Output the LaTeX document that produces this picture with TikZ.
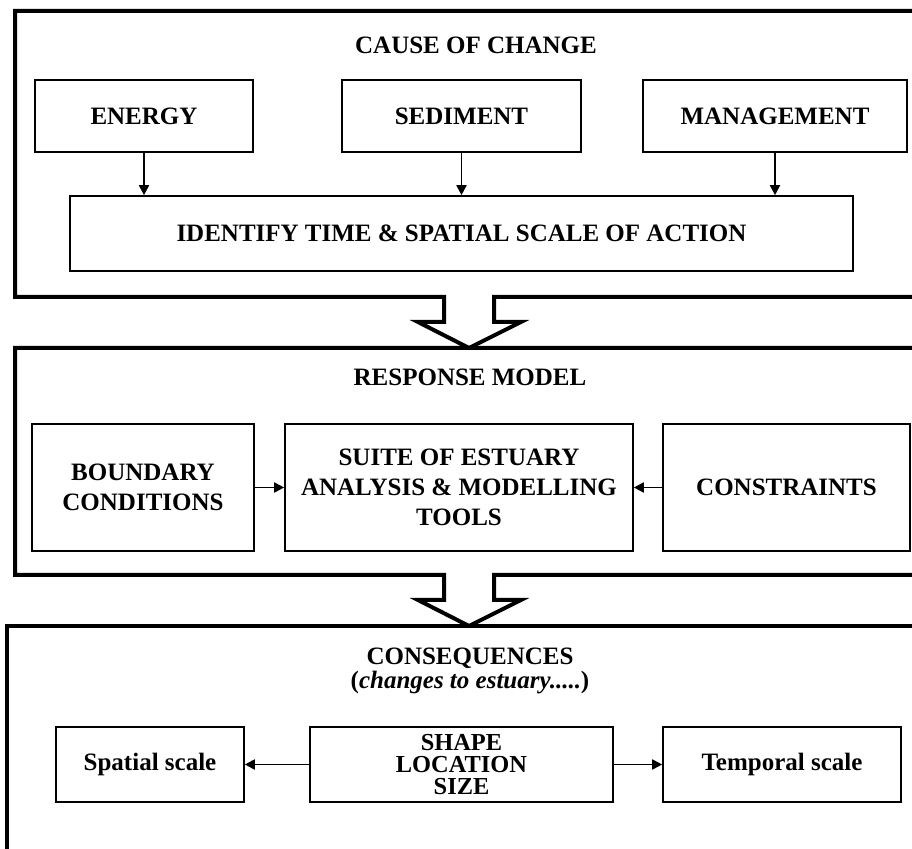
\documentclass[tikz,border=0pt]{standalone}
\usepackage{fontspec}
\setmainfont{Liberation Serif}
\usepackage{tikz}
\usetikzlibrary{arrows}
\usetikzlibrary{arrows.meta}

\begin{document}
\begin{tikzpicture}[x=0.5pt,y=-0.5pt,
    box/.style={draw,line width=0.8pt,align=center,inner sep=0pt,
      font=\bfseries\fontsize{12.5}{15}\selectfont},
    tightbox/.style={box,font=\bfseries\fontsize{12.2}{11}\selectfont},
    title/.style={font=\bfseries\fontsize{12.5}{15}\selectfont},
    frame/.style={line width=2pt,miter limit=10},
    link/.style={line width=0.9pt,-{Triangle[length=5pt,width=5pt]}}]
    \clip (0,0) rectangle (912,849);
    \draw[frame] (930,297) -- (494,297) -- (494,322) -- (521,322) -- (469,348) -- (418,322) -- (444,322) -- (444,297) -- (15,297) -- (15,11) -- (930,11);
    \draw[frame] (930,348) -- (15,348) -- (15,575) -- (444,575) -- (444,600) -- (418,600) -- (469,626) -- (521,600) -- (494,600) -- (494,575) -- (930,575);
    \draw[frame] (930,626) -- (7,626) -- (7,880);
    \node[title] (cause) at (476,45) {CAUSE OF CHANGE};
    \node[box,minimum width=109pt,minimum height=36pt] (energy) at (144,116) {ENERGY};
    \node[box,minimum width=119.5pt,minimum height=36pt] (sediment) at (461.5,116) {SEDIMENT};
    \node[box,minimum width=132pt,minimum height=36pt] (management) at (775,116) {MANAGEMENT};
    \node[box,minimum width=391.5pt,minimum height=37.5pt] (identify) at (461.5,233.5) {IDENTIFY TIME \& SPATIAL SCALE OF ACTION};
    \draw[link] (energy) -- (energy |- identify.north);
    \draw[link] (sediment) -- (sediment |- identify.north);
    \draw[link] (management) -- (management |- identify.north);
    \node[title] (response) at (470,377) {RESPONSE MODEL};
    \node[box,minimum width=111pt,minimum height=63.5pt] (boundary) at (143,487.5) {BOUNDARY\\CONDITIONS};
    \node[box,minimum width=174pt,minimum height=63.5pt] (suite) at (459,487.5) {SUITE OF ESTUARY\\ANALYSIS \& MODELLING\\TOOLS};
    \node[box,minimum width=123.5pt,minimum height=63.5pt] (constraints) at (786.5,487.5) {CONSTRAINTS};
    \draw[link] (boundary) -- (suite);
    \draw[link] (constraints) -- (suite);
    \node[title] (consequences) at (470,658) {CONSEQUENCES};
    \node[title] (changes) at (470,683) {(\textit{changes to estuary.....})};
    \node[box,minimum width=94pt,minimum height=37.5pt] (spatial) at (150,764.5) {Spatial scale};
    \node[tightbox,minimum width=151.5pt,minimum height=37.5pt] (shape) at (461.5,764.5) {SHAPE\\LOCATION\\SIZE};
    \node[box,minimum width=119pt,minimum height=37.5pt] (temporal) at (782,764.5) {Temporal scale};
    \draw[link] (shape) -- (spatial);
    \draw[link] (shape) -- (temporal);
\end{tikzpicture}
\end{document}
